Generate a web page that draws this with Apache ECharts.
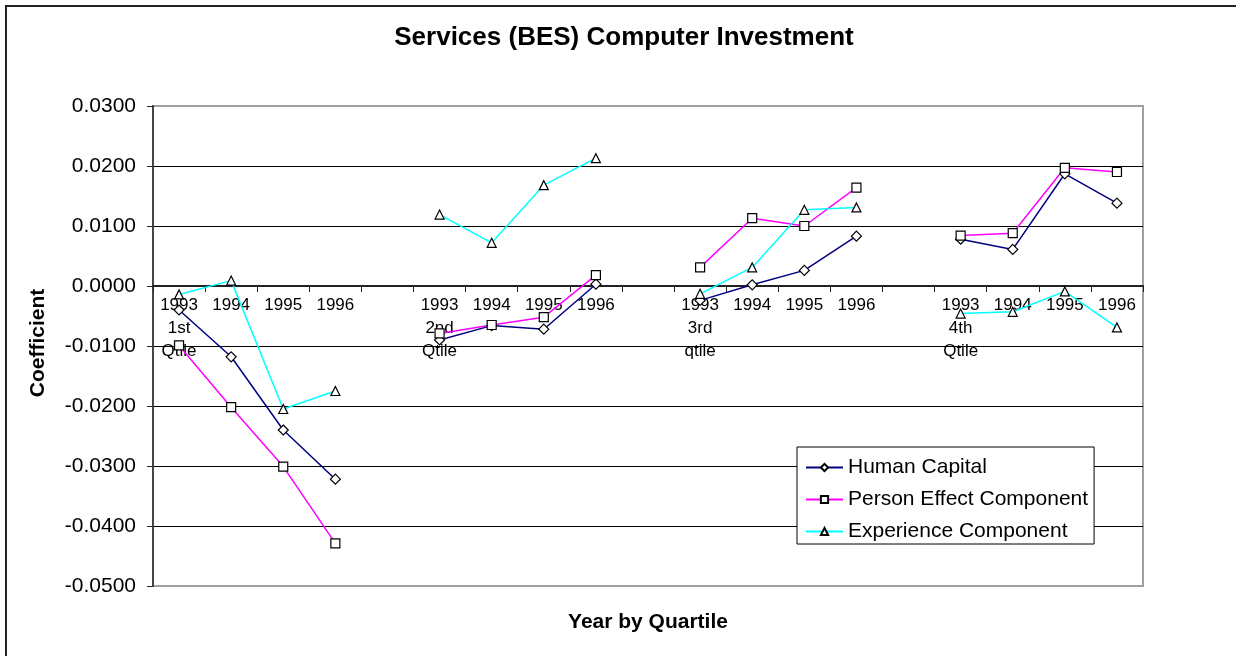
<!DOCTYPE html>
<html>
<head>
<meta charset="utf-8">
<script src="https://cdn.jsdelivr.net/npm/echarts@6/dist/echarts.min.js"></script>
<style>
  html, body { margin: 0; padding: 0; background: #fff; }
  #main { width: 1236px; height: 656px; }
</style>
</head>
<body>
<div id="main"></div>
<script>
// categories: 4 years per quartile, with an empty slot between quartiles
var years = ['1993', '1994', '1995', '1996'];
var quartileNames = ['1st\nQtile', '2nd\nQtile', '3rd\nqtile', '4th\nQtile'];
var yTicks = [-0.05, 0.03, 0.01]; // min, max, interval

// values per quartile (1993..1996)
var humanCapital = [
    [-0.0040, -0.0118, -0.0240, -0.0322],
    [-0.0090, -0.0066, -0.0072, 0.0003],
    [-0.0024, 0.0002, 0.0026, 0.0083],
    [0.0078, 0.0061, 0.0187, 0.0138]
];
var personEffect = [
    [-0.0099, -0.0202, -0.0301, -0.0429],
    [-0.0079, -0.0065, -0.0052, 0.0018],
    [0.0031, 0.0113, 0.0100, 0.0164],
    [0.0084, 0.0088, 0.0197, 0.0190]
];
var experience = [
    [-0.0014, 0.0009, -0.0205, -0.0175],
    [0.0119, 0.0072, 0.0168, 0.0213],
    [-0.0013, 0.0031, 0.0127, 0.0131],
    [-0.0046, -0.0043, -0.0009, -0.0069]
];

var FONT = '"Liberation Sans", Arial, sans-serif';

// build the 19 slot category axis and the gapped series
var categories = [];
function flatten(groups) {
    var out = [];
    for (var q = 0; q < groups.length; q++) {
        if (q > 0) out.push(null);
        for (var i = 0; i < groups[q].length; i++) out.push(groups[q][i]);
    }
    return out;
}
for (var q = 0; q < quartileNames.length; q++) {
    if (q > 0) categories.push('');
    for (var i = 0; i < years.length; i++) {
        categories.push(i === 0 ? years[i] + '\n' + quartileNames[q] : years[i]);
    }
}

function makeSeries(name, data, color, symbol, size) {
    return {
        name: name,
        type: 'line',
        data: flatten(data),
        connectNulls: false,
        symbol: symbol,
        symbolSize: size,
        showAllSymbol: true,
        lineStyle: { color: color, width: 1.5 },
        itemStyle: { color: '#fff', borderColor: '#000', borderWidth: 1.2 },
        emphasis: { disabled: true },
        animation: false
    };
}

var chart = echarts.init(document.getElementById('main'));
var gridTop = 106, gridBottom = 70, plotH = 656 - gridTop - gridBottom;
var option = {
    animation: false,
    grid: {
        left: 153, right: 93, top: gridTop, bottom: gridBottom,
        show: true, borderColor: '#a0a0a0', borderWidth: 2,
        backgroundColor: '#fff'
    },
    graphic: [
        {
            type: 'rect', z: -10,
            shape: { x: 6, y: 6, width: 1300, height: 700 },
            style: { fill: 'none', stroke: '#222', lineWidth: 2 }
        },
        {
            type: 'text', x: 624, y: 38,
            style: {
                text: 'Services (BES) Computer Investment',
                font: 'bold 26px ' + FONT, fill: '#000',
                align: 'center', verticalAlign: 'middle'
            }
        },
        {
            type: 'text', x: 38, y: 343, rotation: Math.PI / 2,
            style: {
                text: 'Coefficient',
                font: 'bold 21px ' + FONT, fill: '#000',
                align: 'center', verticalAlign: 'middle'
            }
        },
        {
            type: 'text', x: 648, y: 622,
            style: {
                text: 'Year by Quartile',
                font: 'bold 21px ' + FONT, fill: '#000',
                align: 'center', verticalAlign: 'middle'
            }
        }
    ],
    legend: {
        orient: 'vertical',
        left: 797, top: 447,
        padding: [10, 6, 2, 8],
        itemGap: 11,
        itemWidth: 37,
        itemHeight: 9,
        backgroundColor: '#fff',
        borderColor: '#000',
        borderWidth: 1,
        borderRadius: 0,
        textStyle: { fontSize: 21, lineHeight: 21, fontFamily: FONT, color: '#000' },
        data: ['Human Capital', 'Person Effect Component', 'Experience Component']
    },
    xAxis: {
        type: 'category',
        data: categories,
        boundaryGap: true,
        // sit the category axis on the zero line
        offset: -plotH * (0 - yTicks[0]) / (yTicks[1] - yTicks[0]),
        axisLine: { onZero: false, lineStyle: { color: '#222', width: 2 } },
        axisTick: { show: true, interval: 0, length: 6, lineStyle: { color: '#222', width: 1 } },
        axisLabel: {
            interval: 0, margin: 8,
            fontSize: 17, lineHeight: 23, fontFamily: FONT, color: '#000'
        },
        splitLine: { show: false }
    },
    yAxis: {
        type: 'value',
        min: yTicks[0], max: yTicks[1], interval: yTicks[2],
        axisLine: { show: true, lineStyle: { color: '#444', width: 2 } },
        axisTick: { show: true, length: 6, lineStyle: { color: '#222', width: 1 } },
        axisLabel: {
            margin: 17, fontSize: 21, fontFamily: FONT, color: '#000',
            formatter: function (v) { return v.toFixed(4); }
        },
        splitLine: {
            show: true, showMinLine: false, showMaxLine: false,
            lineStyle: { color: '#000', width: 1 }
        }
    },
    series: [
        makeSeries('Human Capital', humanCapital, '#000080', 'diamond', 10),
        makeSeries('Person Effect Component', personEffect, '#ff00ff', 'rect', 9),
        makeSeries('Experience Component', experience, '#00ffff', 'triangle', 9)
    ]
};
chart.setOption(option);
</script>
</body>
</html>
